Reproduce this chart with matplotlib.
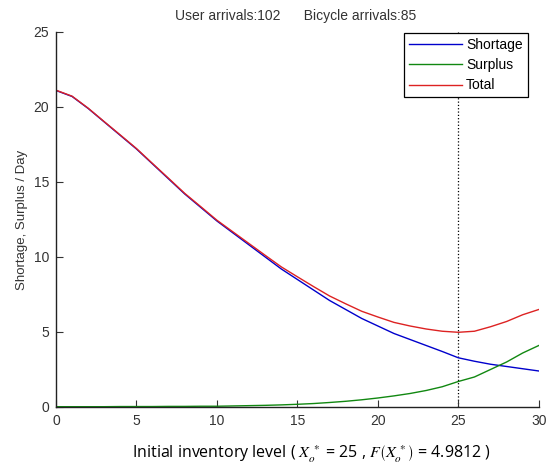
import numpy as np
import matplotlib
matplotlib.use("Agg")
import matplotlib.pyplot as plt

plt.rcParams['font.family'] = ['Liberation Sans', 'DejaVu Sans']
plt.rcParams['mathtext.fontset'] = 'stix'

# inventory level grid and daily shortage / surplus estimates
inventory = list(range(0, 31))
shortage = [21.1, 20.7, 19.9, 19.0, 18.1, 17.2, 16.2, 15.2, 14.2, 13.3,
            12.4, 11.6, 10.8, 10.0, 9.2, 8.5, 7.8, 7.1, 6.5, 5.9,
            5.4, 4.9, 4.5, 4.1, 3.7, 3.28, 3.05, 2.85, 2.7, 2.55, 2.4]
surplus = [0.02, 0.02, 0.02, 0.02, 0.03, 0.03, 0.03, 0.04, 0.04, 0.05,
           0.05, 0.07, 0.09, 0.11, 0.14, 0.18, 0.23, 0.3, 0.38, 0.48,
           0.6, 0.74, 0.9, 1.1, 1.35, 1.70, 2.0, 2.5, 3.0, 3.6, 4.1]
total = [s + u for s, u in zip(shortage, surplus)]

x_opt = 25
f_opt = 4.9812
user_arrivals = 102
bike_arrivals = 85

fig = plt.figure(figsize=(5.47, 4.67), dpi=100)
ax = fig.add_axes([0.1024, 0.1285, 0.8826, 0.803])

ax.axvline(x_opt, color='black', linestyle=':', linewidth=0.9, zorder=1)
ax.plot(inventory, shortage, color='#0000cc', linewidth=1.0, label='Shortage')
ax.plot(inventory, surplus, color='#118811', linewidth=1.0, label='Surplus')
ax.plot(inventory, total, color='#dd2222', linewidth=1.0, label='Total')

ax.set_xlim(0, 30)
ax.set_ylim(0, 25)
ax.set_xticks(range(0, 31, 5))
ax.set_yticks(range(0, 26, 5))
ax.tick_params(direction='in', length=5, labelsize=10, colors='#333333', pad=5)
ax.spines['top'].set_visible(False)
ax.spines['right'].set_visible(False)
for sp in ('left', 'bottom'):
    ax.spines[sp].set_linewidth(1.0)
    ax.spines[sp].set_color('#222222')

ax.set_ylabel('Shortage, Surplus / Day', fontsize=9.5, color='#333333')
ax.set_xlabel(r'Initial inventory level ( $X_o^{\,*}$ = %d , $F\left(X_o^{\,*}\right)$ = %.4f )'
              % (x_opt, f_opt),
              fontsize=11.5, family=['Open Sans', 'DejaVu Sans'])
ax.xaxis.set_label_coords(0.53, -0.095)
fig.text(0.541, 0.965, 'User arrivals:%d      Bicycle arrivals:%d' % (user_arrivals, bike_arrivals),
         ha='center', va='center', fontsize=10, color='#333333')

leg = ax.legend(loc='upper right', fontsize=10, frameon=True, fancybox=False,
                handlelength=3.8, handletextpad=0.3, borderpad=0.35, labelspacing=0.45,
                borderaxespad=0, bbox_to_anchor=(0.977, 0.997))
leg.get_frame().set_edgecolor('black')
leg.get_frame().set_linewidth(0.9)
leg.get_frame().set_alpha(1.0)

fig.savefig('out.png', dpi=100)
